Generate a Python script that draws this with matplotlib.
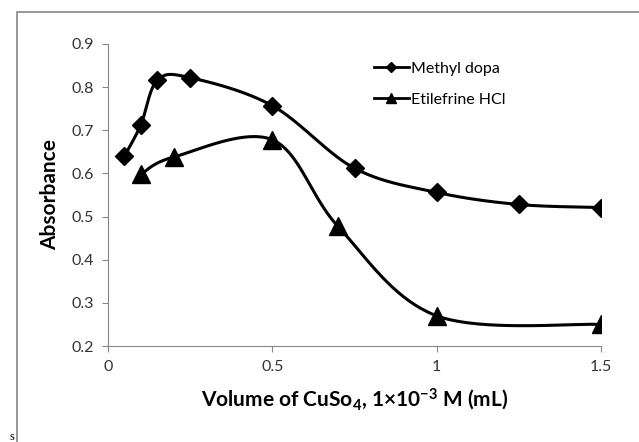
import numpy as np
import matplotlib.pyplot as plt
from matplotlib.patches import Rectangle

plt.rcParams['font.family'] = ['Lato', 'DejaVu Sans']
plt.rcParams['mathtext.fontset'] = 'custom'
plt.rcParams['mathtext.rm'] = 'Lato:bold'
plt.rcParams['mathtext.it'] = 'Lato:bold'
plt.rcParams['mathtext.bf'] = 'Lato:bold'

# data
methyl_x = [0.05, 0.1, 0.15, 0.25, 0.5, 0.75, 1.0, 1.25, 1.5]
methyl_y = [0.640, 0.713, 0.816, 0.822, 0.757, 0.612, 0.556, 0.528, 0.521]
etil_x = [0.1, 0.2, 0.5, 0.7, 1.0, 1.5]
etil_y = [0.598, 0.638, 0.678, 0.477, 0.270, 0.250]
xticks = [0, 0.5, 1, 1.5]
yticks = [0.2, 0.3, 0.4, 0.5, 0.6, 0.7, 0.8, 0.9]


def smooth(xs, ys, n=40):
    # excel-like smoothed line (catmull-rom bezier)
    p = np.column_stack([xs, ys]).astype(float)
    pts = np.vstack([p[0], p, p[-1]])
    out = []
    t = np.linspace(0, 1, n)[:, None]
    for i in range(1, len(pts) - 2):
        p0, p1, p2, p3 = pts[i - 1], pts[i], pts[i + 1], pts[i + 2]
        c1 = p1 + (p2 - p0) / 6
        c2 = p2 - (p3 - p1) / 6
        seg = ((1 - t) ** 3) * p1 + 3 * ((1 - t) ** 2) * t * c1 + 3 * (1 - t) * t ** 2 * c2 + t ** 3 * p2
        out.append(seg)
    out = np.vstack(out)
    return out[:, 0], out[:, 1]


fig = plt.figure(figsize=(6.39, 4.42), dpi=100)
fig.patches.append(Rectangle((17 / 639, -0.1), 1.2, 1 - 12 / 442 + 0.1, transform=fig.transFigure,
                             fill=False, edgecolor='#868686', linewidth=1.2))
fig.text(10 / 639, 1 - 437 / 442, 's', fontsize=9, family='Liberation Serif', va='center')

ax = fig.add_axes([108 / 639, 1 - 346 / 442, (601 - 108) / 639, (346 - 44) / 442])

sx, sy = smooth(methyl_x, methyl_y)
ax.plot(sx, sy, color='black', lw=2.2)
ax.plot(methyl_x, methyl_y, linestyle='none', marker='D', ms=9.5, color='black')
ex, ey = smooth(etil_x, etil_y)
ax.plot(ex, ey, color='black', lw=2.2)
ax.plot(etil_x, etil_y, linestyle='none', marker='^', ms=12.5, color='black')

# legend handles
ax.plot([], [], color='black', lw=2, marker='D', ms=5, label='Methyl dopa')
ax.plot([], [], color='black', lw=2, marker='^', ms=7, label='Etilefrine HCl')
h, l = ax.get_legend_handles_labels()
ax.legend(h[-2:], l[-2:], loc='upper left', bbox_to_anchor=(0.51, 0.99), frameon=False,
          fontsize=11.5, handlelength=2.2, handletextpad=0.1, labelspacing=1.05)

ax.set_xlim(0, 1.5)
ax.set_ylim(0.2, 0.9)
ax.set_xticks(xticks)
ax.set_xticklabels(['0', '0.5', '1', '1.5'])
ax.set_yticks(yticks)
ax.set_yticklabels(['%.1f' % v for v in yticks])
for s in ['top', 'right']:
    ax.spines[s].set_visible(False)
for s in ['left', 'bottom']:
    ax.spines[s].set_color('#868686')
ax.tick_params(colors='#868686', labelcolor='#333333', labelsize=11.5, length=4, pad=6)
ax.set_xlabel('Volume of CuSo$_4$, 1×10$^{-3}$ M (mL)', fontsize=15, fontweight='bold', labelpad=9)
ax.set_ylabel('Absorbance', fontsize=15, fontweight='bold', labelpad=8)

fig.savefig('out.png', dpi=100)
